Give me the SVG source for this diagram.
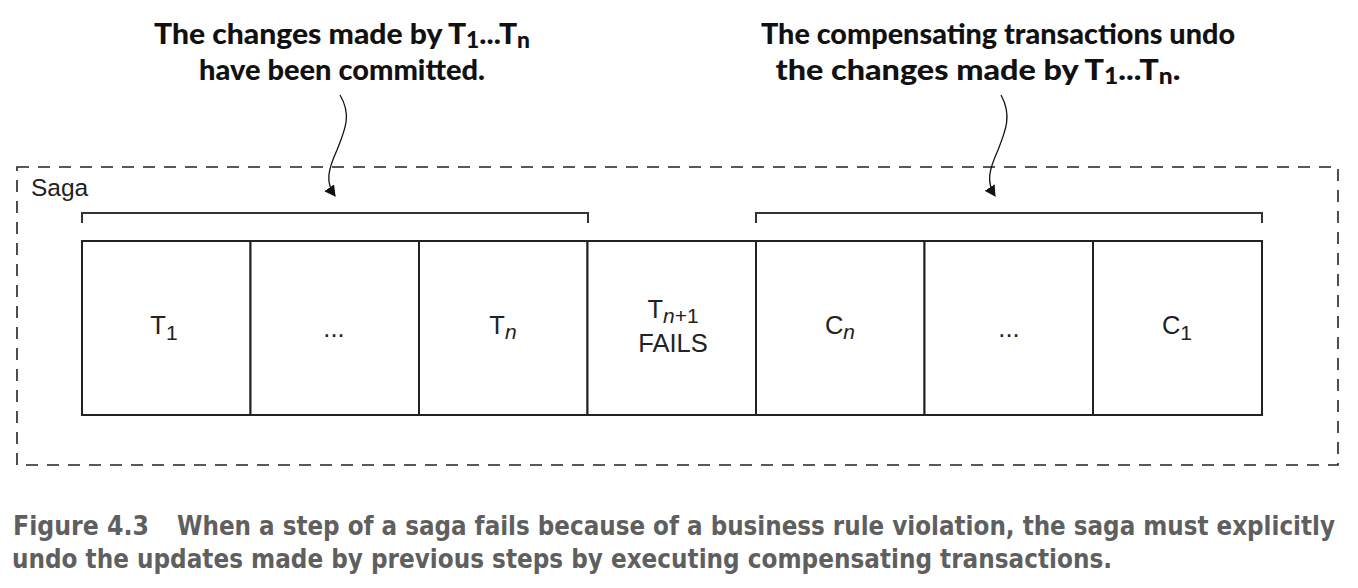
<svg xmlns="http://www.w3.org/2000/svg" width="1358" height="588" viewBox="0 0 1358 588">
<style>
.box{fill:#fff;stroke:#222;stroke-width:2}
.lbl{font-family:"Liberation Sans",Arial,sans-serif;font-size:25.5px;fill:#222;text-anchor:middle}
.sub{font-size:21px}
.head{font-family:Lato,"Open Sans",sans-serif;font-weight:900;font-size:29px;fill:#111;text-anchor:middle}
.cap{font-family:"DejaVu Sans Condensed","Liberation Sans",sans-serif;font-stretch:condensed;font-weight:bold;font-size:27px;fill:#5f5f5f}
.br{fill:none;stroke:#333;stroke-width:2}
.cv{fill:none;stroke:#111;stroke-width:1.3}
</style>
<defs>
<marker id="ah" markerWidth="12" markerHeight="12" refX="10" refY="6" orient="auto" markerUnits="userSpaceOnUse">
<path d="M0,0 L11,6 L0,12 Z" fill="#111"/>
</marker>
</defs>
<g id="saga">
<rect x="17" y="167" width="1321" height="298" fill="none" stroke="#222" stroke-width="1.6" stroke-dasharray="12,9"/>
<text x="31" y="196" style="font-family:'Liberation Sans',Arial,sans-serif;font-size:24.5px;fill:#222">Saga</text>
</g>
<g id="brackets">
<path class="br" d="M82,223 V213 H588 V223"/>
<path class="br" d="M756,223 V213 H1262 V223"/>
</g>
<g id="n-t1"><rect class="box" x="82" y="241" width="168.5" height="174"/><text class="lbl" x="164" y="334">T<tspan class="sub" dy="6">1</tspan></text></g>
<g id="n-dots1"><rect class="box" x="250.5" y="241" width="168.5" height="174"/><text class="lbl" x="334" y="337">...</text></g>
<g id="n-tn"><rect class="box" x="419" y="241" width="168.5" height="174"/><text class="lbl" x="503" y="334">T<tspan class="sub" dy="5" font-style="italic">n</tspan></text></g>
<g id="n-tn1"><rect class="box" x="587.5" y="241" width="168.5" height="174"/><text class="lbl" x="673" y="318">T<tspan class="sub" dy="5"><tspan font-style="italic">n</tspan>+1</tspan></text><text class="lbl" x="673" y="352">FAILS</text></g>
<g id="n-cn"><rect class="box" x="756" y="241" width="168.5" height="174"/><text class="lbl" x="840" y="334">C<tspan class="sub" dy="5" font-style="italic">n</tspan></text></g>
<g id="n-dots2"><rect class="box" x="924.5" y="241" width="168.5" height="174"/><text class="lbl" x="1009" y="337">...</text></g>
<g id="n-c1"><rect class="box" x="1093" y="241" width="169" height="174"/><text class="lbl" x="1177" y="334">C<tspan class="sub" dy="6">1</tspan></text></g>
<g id="connectors">
<path class="cv" d="M340,95 C352,115 345,130 337,150 C328,170 325,182 335,196" marker-end="url(#ah)"/>
<path class="cv" d="M1001,95 C1012,115 1006,130 998,150 C989,170 986,182 995,196" marker-end="url(#ah)"/>
</g>
<g id="notes">
<text class="head" x="342" y="44" textLength="376" lengthAdjust="spacingAndGlyphs">The changes made by T<tspan dy="4" font-size="22">1</tspan><tspan dy="-4">...T</tspan><tspan dy="4" font-size="22">n</tspan></text>
<text class="head" x="342" y="80">have been committed.</text>
<text class="head" x="998" y="44" textLength="474" lengthAdjust="spacingAndGlyphs">The compensating transactions undo</text>
<text class="head" x="978" y="80" textLength="405" lengthAdjust="spacingAndGlyphs">the changes made by T<tspan dy="4" font-size="22">1</tspan><tspan dy="-4">...T</tspan><tspan dy="4" font-size="22">n</tspan><tspan dy="-4">.</tspan></text>
</g>
<g id="caption">
<text class="cap" x="13" y="535" textLength="136" lengthAdjust="spacingAndGlyphs">Figure 4.3</text>
<text class="cap" x="177" y="535" textLength="1158" lengthAdjust="spacingAndGlyphs">When a step of a saga fails because of a business rule violation, the saga must explicitly</text>
<text class="cap" x="12" y="568" textLength="1100" lengthAdjust="spacingAndGlyphs">undo the updates made by previous steps by executing compensating transactions.</text>
</g>
</svg>
